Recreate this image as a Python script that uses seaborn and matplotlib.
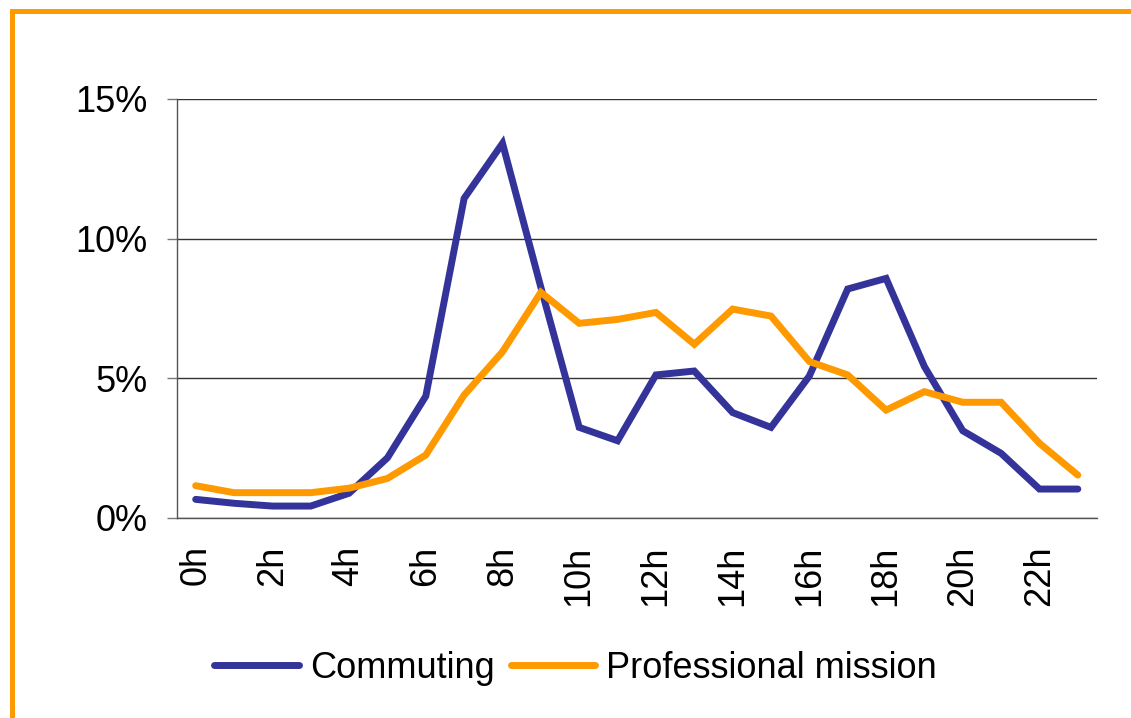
import matplotlib
matplotlib.use("Agg")
import matplotlib.pyplot as plt
from matplotlib.patches import Rectangle
from matplotlib.ticker import PercentFormatter, MultipleLocator
import pandas as pd
import seaborn as sns

# hourly share of trips (%)
hours = list(range(24))
hour_labels = [f"{h}h" for h in hours]
commuting = [0.65, 0.51, 0.41, 0.41, 0.87, 2.14, 4.35, 11.44, 13.41, 8.25, 3.23, 2.75,
             5.11, 5.25, 3.76, 3.23, 5.07, 8.19, 8.57, 5.41, 3.11, 2.30, 1.02, 1.02]
professional = [1.14, 0.89, 0.89, 0.89, 1.05, 1.40, 2.24, 4.39, 5.94, 8.07, 6.96, 7.10,
                7.35, 6.21, 7.47, 7.22, 5.59, 5.11, 3.85, 4.51, 4.13, 4.13, 2.66, 1.52]
series_names = ["Commuting", "Professional mission"]
colors = ["#333399", "#FF9900"]

df = pd.DataFrame({
    "hour": hours * 2,
    "share": commuting + professional,
    "purpose": [series_names[0]] * 24 + [series_names[1]] * 24,
})

sns.set_style("white")
plt.rcParams["font.family"] = ["Liberation Sans", "DejaVu Sans"]
plt.rcParams["text.color"] = "black"
plt.rcParams["xtick.labelcolor"] = "black"
plt.rcParams["ytick.labelcolor"] = "black"

fig = plt.figure(figsize=(11.31, 7.18), dpi=100)
ax = fig.add_axes([176.5 / 1131, 200.5 / 718, (1097 - 176.5) / 1131, (517.5 - 99) / 718])

sns.lineplot(data=df, x="hour", y="share", hue="purpose", palette=colors,
             linewidth=5, ax=ax, legend=False)
for ln in ax.lines:
    ln.set_solid_capstyle("round")
    ln.set_solid_joinstyle("miter")

ax.set_xlim(-0.5, 23.5)
ax.set_ylim(0, 15)
ax.yaxis.set_major_locator(MultipleLocator(5))
ax.yaxis.set_major_formatter(PercentFormatter(xmax=100, decimals=0))
ax.grid(axis="y", color="#333333", linewidth=1)
ax.set_axisbelow(True)

ax.set_xticks(hours[::2])
ax.set_xticklabels(hour_labels[::2], rotation=90)
ax.set_xticks([h - 0.5 for h in hours] + [23.5], minor=True)
ax.tick_params(axis="x", which="major", length=0, pad=20, labelsize=26, labelcolor="black")
ax.tick_params(axis="x", which="minor", length=7.2, width=1, color="#555555", direction="out")
ax.tick_params(axis="y", length=7.2, width=1, color="#777777", pad=13.7, labelsize=26,
               left=True, labelcolor="black")
ax.set_xlabel("")
ax.set_ylabel("")

for side in ["top", "right"]:
    ax.spines[side].set_visible(False)
for side in ["left", "bottom"]:
    ax.spines[side].set_color("#555555")
    ax.spines[side].set_linewidth(1)

handles = [plt.Line2D([], [], color=c, linewidth=5, solid_capstyle="round") for c in colors]
fig.legend(handles, series_names, loc="center left", bbox_to_anchor=(214 / 1131, 1 - 668 / 718),
           ncol=2, frameon=False, handlelength=2.35, handletextpad=0.3, columnspacing=0.45,
           prop={"size": 26}, labelcolor="black", borderpad=0, borderaxespad=0)

# orange frame round the chart
fig.patches.append(Rectangle((11.5 / 1131, -0.5), 2, 1.5 - 10.5 / 718, transform=fig.transFigure,
                             fill=False, edgecolor="#FF9900", linewidth=3.6, figure=fig))

fig.savefig("out.png", dpi=100)
